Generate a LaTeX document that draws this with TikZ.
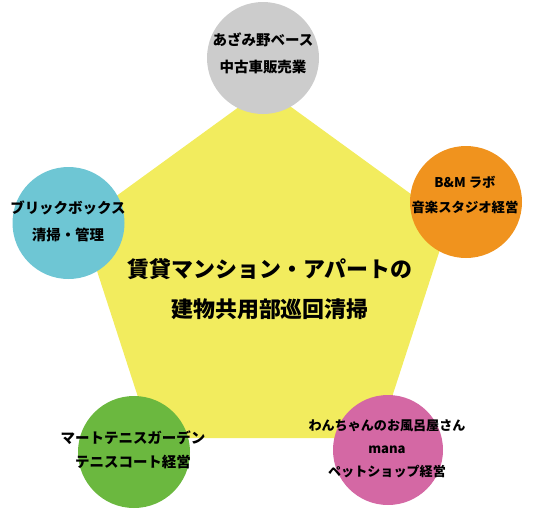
\documentclass[tikz,border=0pt]{standalone}
\usepackage{fontspec}
\setmainfont{Noto Sans CJK JP}
\definecolor{pentyellow}{RGB}{242,236,94}
\definecolor{basegrey}{RGB}{204,204,204}
\definecolor{laborange}{RGB}{240,147,30}
\definecolor{brickblue}{RGB}{110,198,212}
\definecolor{tennisgreen}{RGB}{107,184,63}
\definecolor{petpink}{RGB}{212,104,164}
\tikzset{
  shoptext/.style={align=center, inner sep=0pt, font=\bfseries\fontsize{10.3}{19.2}\selectfont},
}
\begin{document}
\begin{tikzpicture}[x=0.025cm, y=-0.025cm]
	\useasboundingbox (0,0) rectangle (533,508);
	\fill[pentyellow] (265,88) -- (449,221.7) -- (378.7,438) -- (151.3,438) -- (81,221.7) -- cycle;
	\node[align=center, inner sep=0pt, font=\bfseries\fontsize{15.6}{28}\selectfont] (hub) at (270,289) {賃貸マンション・アパートの\\建物共用部巡回清掃};
	
	\fill[basegrey] (263,58) circle (56);
	\node[shoptext] (base) at (263,53.5) {あざみ野ベース\\中古車販売業};
	
	\fill[laborange] (466,202) circle (56);
	\node[shoptext, font=\bfseries\fontsize{9.5}{17.8}\selectfont] (lab) at (465,194.5) {B\&M ラボ\\音楽スタジオ経営};
	
	\fill[brickblue] (68.5,223) circle (56);
	\node[shoptext] (brick) at (68,221.5) {ブリックボックス\\清掃・管理};
	
	\fill[tennisgreen] (134,452) circle (56);
	\node[shoptext, font=\bfseries\fontsize{10.3}{17}\selectfont] (tennis) at (133,450) {マートテニスガーデン\\テニスコート経営};
	
	\fill[petpink] (388,450) circle (55);
	\node[shoptext, font=\bfseries\fontsize{9.3}{16.4}\selectfont] (pet) at (387,448.5) {わんちゃんのお風呂屋さん\\mana\\ペットショップ経営};
\end{tikzpicture}
\end{document}
